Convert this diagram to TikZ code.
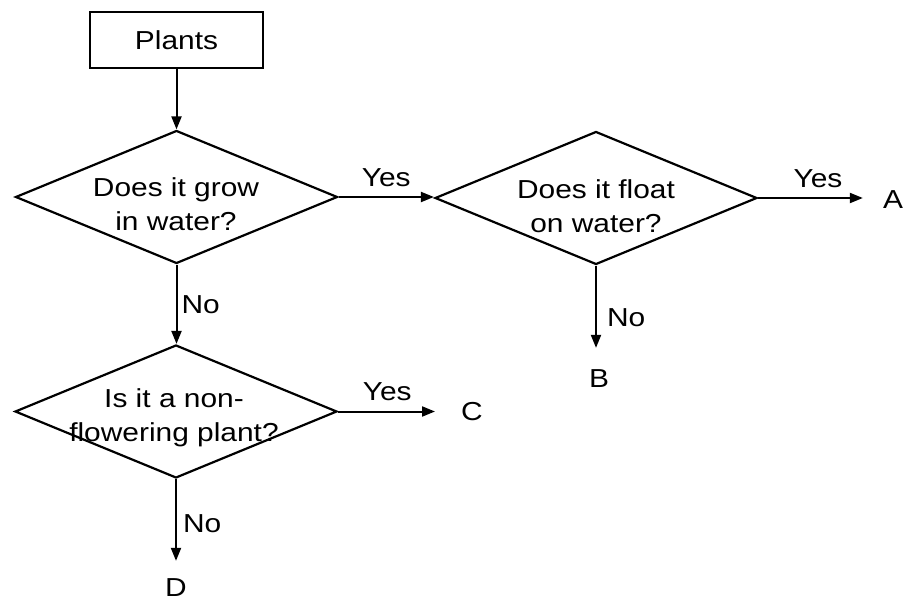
\documentclass[tikz,border=0pt]{standalone}
\usepackage{fontspec}
\setmainfont{Liberation Sans}[FakeStretch=1.15]
\usetikzlibrary{shapes.geometric,arrows.meta}
\begin{document}
\begin{tikzpicture}[x=1pt,y=-1pt,
  every node/.style={font=\fontsize{26}{34}\selectfont},
  box/.style={draw,line width=2.2pt,minimum width=173pt,minimum height=56pt,inner sep=0pt},
  dia/.style={draw,diamond,line width=2.2pt,inner sep=0pt,minimum width=322pt,minimum height=133pt},
  qtext/.style={align=center,inner sep=0pt},
  lbl/.style={inner sep=0pt},
  arr/.style={line width=2pt,-{Triangle[length=13pt,width=10pt]}}
]
\useasboundingbox (0,0) rectangle (907,601);
\node[box] (plants) at (176.5,40) {Plants};
\node[dia] (d1) at (176.5,197) {};
\node[qtext] (t1) at (176,204) {Does it grow\\in water?};
\node[dia] (d2) at (596,198) {};
\node[qtext] (t2) at (596,206) {Does it float\\on water?};
\node[dia] (d3) at (176,411.5) {};
\node[qtext] (t3) at (174,418) {Is it a non-\\flowering plant?};

\node[lbl] (A) at (893,200) {A};
\node[lbl] (B) at (599,379) {B};
\node[lbl] (C) at (472,412) {C};
\node[lbl] (D) at (176,588) {D};

\draw[arr] (plants.south) -- (plants.south |- d1.north);
\draw[arr] (d1.east) -- (d1.east -| d2.west) node[lbl,pos=0.5,above=9pt] (y1) {Yes};
\draw[arr,shorten >=20pt] (d2.east) -- (d2.east -| A.west) node[lbl,pos=0.48,above=9pt] (y2) {Yes};
\draw[arr,shorten >=22pt] (d2.south) -- (d2.south |- B.north) node[lbl,pos=0.5,right=10pt] (n2) {No};
\draw[arr] (d1.south) -- (d1.south |- d3.north) node[lbl,pos=0.5,right=4pt] (n1) {No};
\draw[arr,shorten >=26pt] (d3.east) -- (d3.east -| C.west) node[lbl,pos=0.4,above=10pt] (y3) {Yes};
\draw[arr,shorten >=18pt] (d3.south) -- (d3.south |- D.north) node[lbl,pos=0.45,right=6pt] (n3) {No};
\end{tikzpicture}
\end{document}
